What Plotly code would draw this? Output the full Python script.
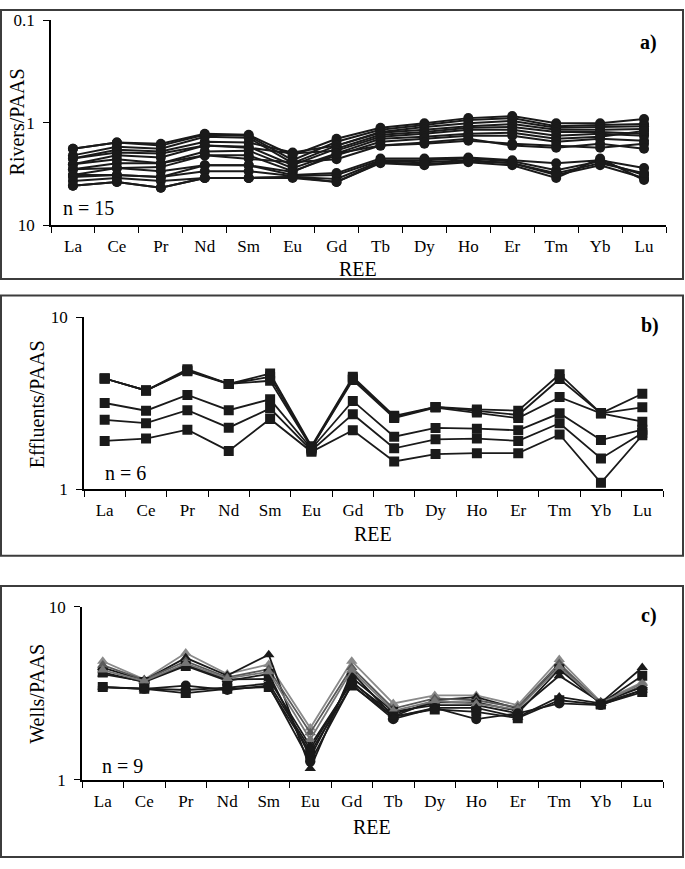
import plotly.graph_objects as go

REE = ["La", "Ce", "Pr", "Nd", "Sm", "Eu", "Gd", "Tb", "Dy", "Ho", "Er", "Tm", "Yb", "Lu"]

# ---- a) Rivers / PAAS (15 samples) ----
river_01 = [1.79, 1.56, 1.60, 1.28, 1.31, 2.08, 1.43, 1.12, 1.01, 0.90, 0.86, 1.01, 1.01, 0.92]
river_02 = [1.79, 1.56, 1.67, 1.31, 1.34, 2.32, 1.53, 1.17, 1.05, 0.94, 0.90, 1.08, 1.05, 1.03]
river_03 = [2.08, 1.71, 1.79, 1.37, 1.40, 2.48, 1.67, 1.23, 1.10, 1.01, 0.96, 1.12, 1.10, 1.08]
river_04 = [2.23, 1.83, 1.91, 1.53, 1.56, 1.95, 1.67, 1.25, 1.17, 1.08, 1.03, 1.17, 1.17, 1.15]
river_05 = [2.23, 1.95, 1.99, 1.67, 1.71, 2.60, 1.79, 1.31, 1.23, 1.12, 1.10, 1.23, 1.23, 1.28]
river_06 = [2.54, 2.08, 2.18, 1.67, 1.75, 1.99, 1.87, 1.37, 1.28, 1.17, 1.17, 1.34, 1.28, 1.34]
river_07 = [2.54, 2.27, 2.48, 1.91, 1.87, 2.77, 1.99, 1.43, 1.37, 1.28, 1.25, 1.43, 1.37, 1.20]
river_08 = [2.84, 2.48, 2.48, 2.08, 2.08, 2.97, 2.08, 1.53, 1.43, 1.34, 1.34, 1.53, 1.43, 1.50]
river_09 = [2.84, 2.77, 2.71, 2.08, 2.23, 2.43, 2.27, 1.67, 1.60, 1.50, 1.60, 1.67, 1.75, 1.60]
river_10 = [3.24, 2.77, 2.97, 2.60, 2.60, 3.03, 1.99, 1.67, 1.56, 1.43, 1.67, 1.75, 1.60, 1.79]
river_11 = [3.24, 3.24, 3.39, 2.60, 2.60, 3.24, 3.10, 2.23, 2.23, 2.18, 2.32, 2.48, 2.32, 2.77]
river_12 = [3.39, 3.24, 3.39, 2.97, 2.97, 3.31, 3.24, 2.32, 2.32, 2.23, 2.38, 2.90, 2.38, 3.24]
river_13 = [3.70, 3.46, 3.70, 3.46, 3.46, 3.39, 3.54, 2.38, 2.43, 2.32, 2.48, 3.24, 2.60, 3.46]
river_14 = [4.12, 3.78, 4.31, 3.46, 3.46, 3.39, 3.78, 2.48, 2.60, 2.43, 2.60, 3.46, 2.23, 3.62]
river_15 = [4.12, 3.78, 4.31, 3.46, 3.46, 3.46, 3.78, 2.43, 2.54, 2.38, 2.48, 3.10, 2.48, 3.10]

# ---- b) Effluents / PAAS (6 samples) ----
effl_1 = [4.40, 3.75, 4.98, 4.09, 4.70, 1.78, 4.50, 2.67, 3.01, 2.91, 2.86, 4.66, 2.76, 3.59]
effl_2 = [4.40, 3.75, 4.85, 4.09, 4.50, 1.75, 4.40, 2.62, 3.01, 2.85, 2.70, 4.37, 2.76, 2.99]
effl_3 = [4.40, 3.75, 4.90, 4.09, 4.27, 1.74, 4.31, 2.59, 2.98, 2.79, 2.59, 3.43, 2.76, 2.47]
effl_4 = [3.17, 2.86, 3.53, 2.88, 3.33, 1.72, 3.26, 2.02, 2.27, 2.25, 2.20, 2.76, 1.93, 2.22]
effl_5 = [2.53, 2.42, 2.88, 2.28, 2.95, 1.68, 2.73, 1.73, 1.95, 1.97, 1.91, 2.42, 1.51, 2.12]
effl_6 = [1.91, 1.97, 2.22, 1.67, 2.56, 1.65, 2.20, 1.45, 1.60, 1.62, 1.62, 2.08, 1.09, 2.06]

# ---- c) Wells / PAAS (9 samples) ----
well_1 = [4.84, 3.80, 5.40, 4.08, 4.64, 1.99, 4.84, 2.76, 3.07, 3.07, 2.70, 4.95, 2.82, 3.66]
well_2 = [4.45, 3.75, 5.06, 4.00, 5.28, 1.16, 4.17, 2.32, 2.88, 3.00, 2.58, 4.54, 2.78, 4.45]
well_3 = [4.60, 3.78, 4.84, 3.90, 4.35, 1.87, 4.45, 2.58, 2.95, 2.88, 2.62, 4.70, 2.76, 3.50]
well_4 = [4.17, 3.67, 4.54, 3.73, 4.08, 1.35, 3.90, 2.48, 2.70, 2.70, 2.42, 4.35, 2.75, 3.99]
well_5 = [4.08, 3.70, 4.60, 3.80, 3.82, 1.57, 3.66, 2.40, 2.80, 2.80, 2.50, 3.99, 2.80, 3.43]
well_6 = [4.30, 3.72, 4.70, 3.85, 4.20, 1.71, 4.30, 2.50, 2.85, 2.75, 2.55, 4.50, 2.78, 3.60]
well_7 = [3.43, 3.35, 3.17, 3.35, 3.43, 1.44, 3.50, 2.32, 2.55, 2.47, 2.27, 2.88, 2.72, 3.21]
well_8 = [3.43, 3.35, 3.50, 3.30, 3.50, 1.27, 3.55, 2.24, 2.60, 2.24, 2.42, 2.76, 2.70, 3.30]
well_9 = [3.43, 3.35, 3.30, 3.40, 3.60, 1.50, 3.70, 2.30, 2.60, 2.60, 2.30, 3.01, 2.76, 3.30]

rivers = [river_01, river_02, river_03, river_04, river_05, river_06, river_07, river_08,
          river_09, river_10, river_11, river_12, river_13, river_14, river_15]
effluents = [effl_1, effl_2, effl_3, effl_4, effl_5, effl_6]
wells = [well_1, well_2, well_3, well_4, well_5, well_6, well_7, well_8, well_9]
well_symbols = ["triangle-up", "triangle-up", "triangle-up", "square", "triangle-up",
                "triangle-up", "square", "circle", "triangle-up"]
well_colors = ["#8a8a8a", "#1a1a1a", "#5a5a5a", "#1a1a1a", "#1a1a1a",
               "#767676", "#1a1a1a", "#1a1a1a", "#1a1a1a"]

W, H = 685, 869
def px(x): return x / W
def py(y): return 1 - y / H

FONT = "Liberation Serif, Times New Roman, serif"
INK = "#1a1a1a"

fig = go.Figure()
for s in rivers:
    fig.add_trace(go.Scatter(x=REE, y=s, mode="lines+markers", xaxis="x", yaxis="y",
                             line=dict(color=INK, width=2),
                             marker=dict(symbol="circle", size=10, color=INK),
                             showlegend=False))
for s in effluents:
    fig.add_trace(go.Scatter(x=REE, y=s, mode="lines+markers", xaxis="x2", yaxis="y2",
                             line=dict(color=INK, width=1.8),
                             marker=dict(symbol="square", size=10, color=INK),
                             showlegend=False))
for s, sym, col in zip(wells, well_symbols, well_colors):
    fig.add_trace(go.Scatter(x=REE, y=s, mode="lines+markers", xaxis="x3", yaxis="y3",
                             line=dict(color=col, width=1.8),
                             marker=dict(symbol=sym, size=10, color=col),
                             showlegend=False))

def xax(dom, anchor):
    return dict(domain=[px(dom[0]), px(dom[1])], anchor=anchor, type="category",
                categoryorder="array", categoryarray=REE, range=[-0.5, 13.5],
                tickson="boundaries", ticks="outside", ticklen=6, tickwidth=1.2,
                tickcolor="black", showline=True, linecolor="black", linewidth=1.6,
                showgrid=False, zeroline=False, ticklabelstandoff=5,
                tickfont=dict(family=FONT, size=17, color="black"))

def yax(dom, anchor, rng, vals, text, grid):
    return dict(domain=[py(dom[1]), py(dom[0])], anchor=anchor, type="log", range=rng,
                tickvals=vals, ticktext=text, ticks="outside", ticklen=6, tickwidth=1.2,
                tickcolor="black", showline=True, linecolor="black", linewidth=1.6,
                showgrid=grid, gridcolor="#d0d0d0", gridwidth=1, zeroline=False,
                ticklabelstandoff=5,
                tickfont=dict(family=FONT, size=17, color="black"))

layout = dict(
    width=W, height=H, margin=dict(l=0, r=0, t=0, b=0),
    paper_bgcolor="white", plot_bgcolor="white",
    xaxis=xax((51, 666), "y"),
    yaxis=yax((11.7, 221), "x", [1, -1], [0.1, 1, 10], ["0.1", "1", "10"], False),
    xaxis2=xax((84, 663), "y2"),
    yaxis2=yax((315, 491), "x2", [0, 1], [1, 10], ["1", "10"], True),
    xaxis3=xax((82, 663), "y3"),
    yaxis3=yax((611, 788), "x3", [0, 1], [1, 10], ["1", "10"], True),
)
fig.update_layout(**layout)

# panel frames
for (x0, y0, x1, y1) in [(1, 1, 683, 276), (1, 293, 683, 559), (1, 590, 683, 867)]:
    fig.add_shape(type="rect", xref="paper", yref="paper",
                  x0=px(x0), x1=px(x1), y0=py(y1), y1=py(y0),
                  line=dict(color="#3c3c3c", width=2), fillcolor="rgba(0,0,0,0)")

def note(x, y, text, size, angle=0):
    fig.add_annotation(x=px(x), y=py(y), xref="paper", yref="paper", text=text,
                       showarrow=False, textangle=angle, xanchor="center", yanchor="middle",
                       font=dict(family=FONT, size=size, color="black"))

note(17, 116, "Rivers/PAAS", 20, -90)
note(358, 266, "REE", 20)
note(648, 34, "<b>a)</b>", 20)
note(88, 203, "n = 15", 20)

note(37, 404, "Effluents/PAAS", 20, -90)
note(373, 537, "REE", 20)
note(650, 324, "<b>b)</b>", 20)
note(125, 474, "n = 6", 20)

note(37, 700, "Wells/PAAS", 20, -90)
note(372, 836, "REE", 20)
note(649, 620, "<b>c)</b>", 20)
note(122, 774, "n = 9", 20)

fig.write_html("out.html", config={"displayModeBar": False},
               post_script="document.body.style.margin='0';")
